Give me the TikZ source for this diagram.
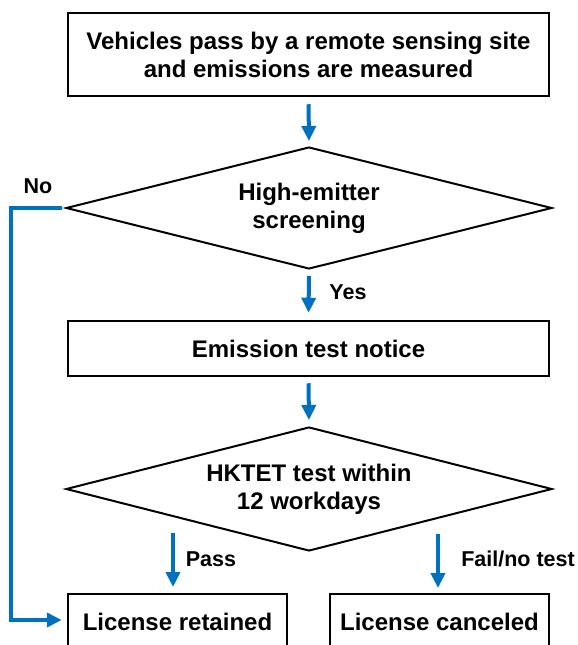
\documentclass[tikz,border=0pt]{standalone}
\usepackage{fontspec}
\setmainfont{Liberation Sans}
\usetikzlibrary{arrows.meta,shapes.geometric}
\definecolor{flowblue}{RGB}{0,112,192}
\tikzset{
  box/.style={draw=black, line width=2.5pt, inner sep=0pt, align=center,
    font=\fontsize{24}{28}\selectfont\bfseries},
  decision/.style={draw=black, line width=2pt, diamond, aspect=4, inner sep=0pt,
    align=center, font=\fontsize{24}{28}\selectfont\bfseries},
  flow/.style={draw=flowblue, line width=4pt, -{Triangle[length=15pt,width=14pt]}},
  lbl/.style={inner sep=0pt, font=\fontsize{21.5}{24}\selectfont\bfseries}
}
\begin{document}
\begin{tikzpicture}[x=1pt,y=1pt]
\useasboundingbox[fill=white] (0,0) rectangle (578,-645);
\node[box, minimum width=481pt, minimum height=83pt] (measure) at (308.5,-54.5)
  {Vehicles pass by a remote sensing site\\and emissions are measured};
\node[decision, minimum width=486pt, minimum height=122pt] (screen) at (309,-208)
  {High-emitter\\screening};
\node[box, minimum width=481pt, minimum height=55pt] (notice) at (308.5,-348.5)
  {Emission test notice};
\node[decision, minimum width=486pt, minimum height=124pt] (hktet) at (309,-489)
  {HKTET test within\\12 workdays};
\node[box, minimum width=219pt, minimum height=56pt] (retained) at (177.5,-622)
  {License retained};
\node[box, minimum width=219pt, minimum height=56pt] (canceled) at (439.5,-622)
  {License canceled};

\coordinate (passstart) at (173,-533);
\coordinate (passend) at (173,-587);
\coordinate (failstart) at (438,-534);
\coordinate (failend) at (438,-588);

\draw[flow, shorten <=7pt, shorten >=5pt] (measure.south) -- (screen.north);
\draw[flow, shorten <=6pt, shorten >=7pt] (screen.south) -- (notice.north);
\draw[flow, shorten <=6pt, shorten >=6pt] (notice.south) -- (hktet.north);
\draw[flow] (passstart) -- (passend);
\draw[flow] (failstart) -- (failend);
\draw[flow] ([xshift=-3pt]screen.west) -- ++(-51,0) |- ([xshift=-5pt,yshift=2pt]retained.west);

\node[lbl] (no) at (38,-186) {No};
\node[lbl] (yes) at (348,-292) {Yes};
\node[lbl] (pass) at (211,-559) {Pass};
\node[lbl] (fail) at (518,-559) {Fail/no test};
\end{tikzpicture}
\end{document}
